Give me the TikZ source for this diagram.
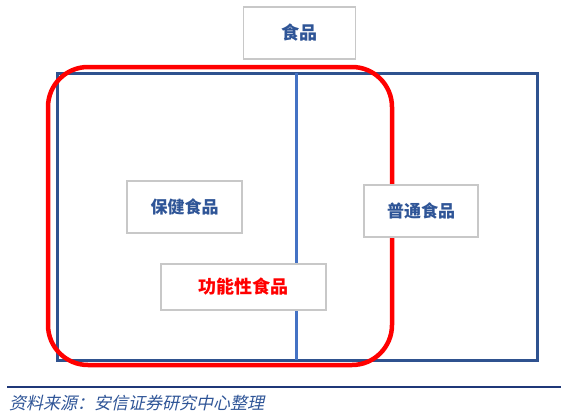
\documentclass[tikz,border=0pt]{standalone}
\usepackage{fontspec}
\usetikzlibrary{positioning}
\newfontfamily\cjk{Noto Sans CJK SC}
\newfontfamily\cjkslant[FakeSlant=0.22]{Noto Sans CJK SC}
\definecolor{framenavy}{RGB}{47,82,143}
\definecolor{divblue}{RGB}{68,114,196}
\definecolor{ringred}{RGB}{255,0,0}
\definecolor{boxgray}{RGB}{200,200,200}
\definecolor{labelnavy}{RGB}{47,85,151}
\definecolor{rulenavy}{RGB}{31,56,120}
\tikzset{
  labelbox/.style={draw=boxgray,line width=1.3pt,fill=white,inner sep=0pt,
    minimum height=52pt,font=\cjk\bfseries\fontsize{17}{17}\selectfont,text=labelnavy},
}
\begin{document}
\begin{tikzpicture}[x=1pt,y=-1pt]
  \useasboundingbox (0,0) rectangle (568,416);
  % Outer frame and divider
  \draw[framenavy,line width=3pt] (57,73) rectangle (537,360);
  \coordinate (divtop) at (296,73);
  \coordinate (divbot) at (296,360);
  \draw[divblue,line width=3pt] (divtop) -- (divbot);
  % Functional food ring
  \draw[ringred,line width=4.5pt,rounded corners=40pt] (48,67) rectangle (392,365);
  % Labels
  \node[labelbox,minimum width=112pt,font=\cjk\bfseries\fontsize{18}{18}\selectfont] (food) at (299.5,33) {食品};
  \node[labelbox,minimum width=115pt] (health) at (184.5,207) {保健食品};
  \node[labelbox,minimum width=114pt] (common) at (421,211) {普通食品};
  \node[labelbox,minimum width=165pt,minimum height=46pt,text=ringred,
    font=\cjk\bfseries\fontsize{18}{18}\selectfont] (functional) at (243.5,287) {功能性食品};
  % Source line
  \coordinate (ruleleft) at (7,387);
  \coordinate (ruleright) at (561,387);
  \draw[rulenavy,line width=1.2pt] (ruleleft) -- (ruleright);
  \node[anchor=west,inner sep=0pt,text=labelnavy,font=\cjkslant\fontsize{17}{17}\selectfont]
    (source) at (9,403) {资料来源：安信证券研究中心整理};
\end{tikzpicture}
\end{document}
